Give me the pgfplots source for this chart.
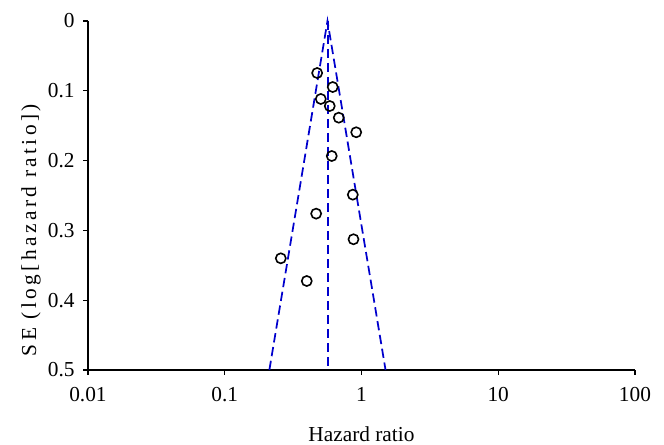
\documentclass[border=0pt]{standalone}
\usepackage{fontspec}
\setmainfont{Liberation Serif}
\newfontfamily\ylabfont[LetterSpace=16]{Liberation Serif}
\usepackage{pgfplots}
\pgfplotsset{compat=1.18}
\definecolor{funnel}{RGB}{0,0,205}

\begin{document}
\begin{tikzpicture}
\begin{axis}[
    scale only axis,
    width=410.25pt, height=261.75pt,
    at={(0,0)}, anchor=south west,
    xmode=log, log basis x=10,
    xmin=0.01, xmax=100,
    ymin=0, ymax=0.5,
    y dir=reverse,
    axis lines=left,
    axis line style={-, black, line width=0.9pt},
    xtick={0.01,0.1,1,10,100},
    xticklabels={0.01,0.1,1,10,100},
    ytick={0,0.1,0.2,0.3,0.4,0.5},
    yticklabels={0,0.1,0.2,0.3,0.4,0.5},
    xminorticks=false,
    tick align=outside,
    major tick length=3.5pt,
    tick style={black, line width=0.9pt},
    tick label style={font=\fontsize{16}{19}\selectfont},
    xticklabel style={yshift=-6pt},
    yticklabel style={xshift=-3pt},
    xlabel={Hazard ratio},
    ylabel={\ylabfont SE (log[hazard ratio])},
    label style={font=\fontsize{16}{19}\selectfont},
    xlabel style={at={(axis description cs:0.5,0)}, anchor=north, yshift=-39pt},
    ylabel style={at={(axis description cs:-0.104,0.401)}, anchor=center},
    clip=false,
]
% funnel: pooled estimate and 95% limits
\addplot[funnel, line width=1.3pt, dash pattern=on 7pt off 3.5pt] coordinates {(0.212,0.5) (0.564,0) (1.50,0.5)};
\addplot[funnel, line width=1.5pt, dash pattern=on 7pt off 3.5pt] coordinates {(0.566,0) (0.566,0.5)};
% studies
\addplot[only marks, mark=o, mark size=3.8pt, line width=1.2pt, black] coordinates {
(0.474,0.0745) (0.616,0.0946) (0.504,0.1117) (0.586,0.1218)
(0.682,0.1385) (0.915,0.1594) (0.606,0.1934) (0.864,0.2488)
(0.466,0.2760) (0.874,0.3127) (0.257,0.3400) (0.398,0.3725)
};
\end{axis}
\pgfresetboundingbox
\path (-66pt,-56.25pt) rectangle (432pt,277.5pt);
\end{tikzpicture}
\end{document}
